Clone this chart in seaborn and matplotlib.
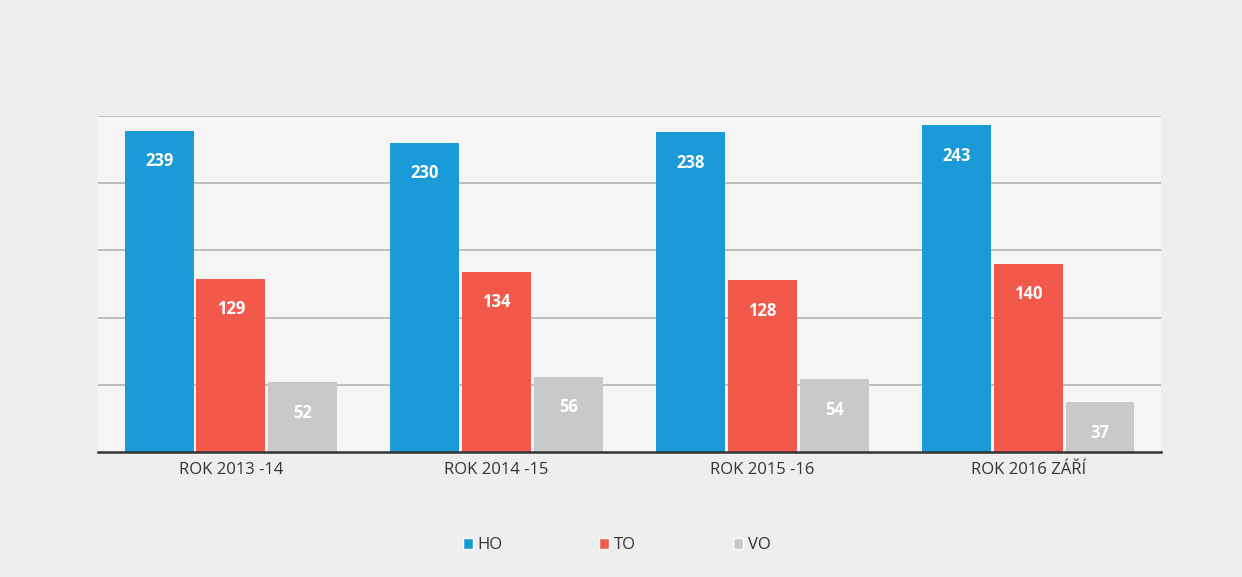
import matplotlib
matplotlib.use("Agg")
import matplotlib.pyplot as plt
import seaborn as sns
import pandas as pd
from matplotlib.patches import Patch

categories = ["ROK 2013 -14", "ROK 2014 -15", "ROK 2015 -16", "ROK 2016 ZÁŘÍ"]
series = ["HO", "TO", "VO"]
ho = [239, 230, 238, 243]
to = [129, 134, 128, 140]
vo = [52, 56, 54, 37]
colors = ["#1b9ad8", "#f2594b", "#c9c9c9"]

rows = []
for s, vals in zip(series, [ho, to, vo]):
    for c, v in zip(categories, vals):
        rows.append({"cat": c, "series": s, "val": v})
df = pd.DataFrame(rows)

sns.set_theme(style="white")
plt.rcParams["font.family"] = ["Open Sans", "DejaVu Sans"]

fig = plt.figure(figsize=(12.42, 5.77), dpi=100)
fig.patch.set_facecolor("#eeeeee")
ax = fig.add_axes([0.0789, 0.2166, 0.856, 0.5823])
ax.set_facecolor("#f5f5f5")

sns.barplot(data=df, x="cat", y="val", hue="series", hue_order=series,
            palette=colors, width=0.81, gap=0.04, ax=ax, legend=False,
            saturation=1, errorbar=None, linewidth=0)

ax.set_ylim(0, 250)
ax.set_xlim(-0.5, 3.5)
ax.set_yticks([50, 100, 150, 200, 250])
ax.yaxis.grid(True, color="#b5b5b5", linewidth=1.2)
ax.set_axisbelow(True)
ax.tick_params(axis="y", left=False, labelleft=False)
ax.tick_params(axis="x", bottom=False, labelsize=12, colors="#333333", pad=1)
ax.set_xlabel("")
ax.set_ylabel("")
for sp in ["top", "right", "left"]:
    ax.spines[sp].set_visible(False)
ax.spines["bottom"].set_color("#333333")
ax.spines["bottom"].set_linewidth(1.8)

for cont in ax.containers:
    for bar in cont:
        h = bar.get_height()
        ax.annotate(f"{int(round(h))}", (bar.get_x() + bar.get_width() / 2, h),
                    xytext=(0, -22), textcoords="offset points",
                    ha="center", va="center", color="white",
                    fontsize=12, fontweight="bold")

handles = [Patch(facecolor=c, label=s) for c, s in zip(colors, series)]
fig.legend(handles=handles, loc="center", bbox_to_anchor=(0.4965, 0.055),
           ncol=3, frameon=False, fontsize=12, handlelength=0.6,
           handleheight=0.6, handletextpad=0.3, columnspacing=5.8,
           labelcolor="#333333")

fig.savefig("out.png", dpi=100, facecolor=fig.get_facecolor())
